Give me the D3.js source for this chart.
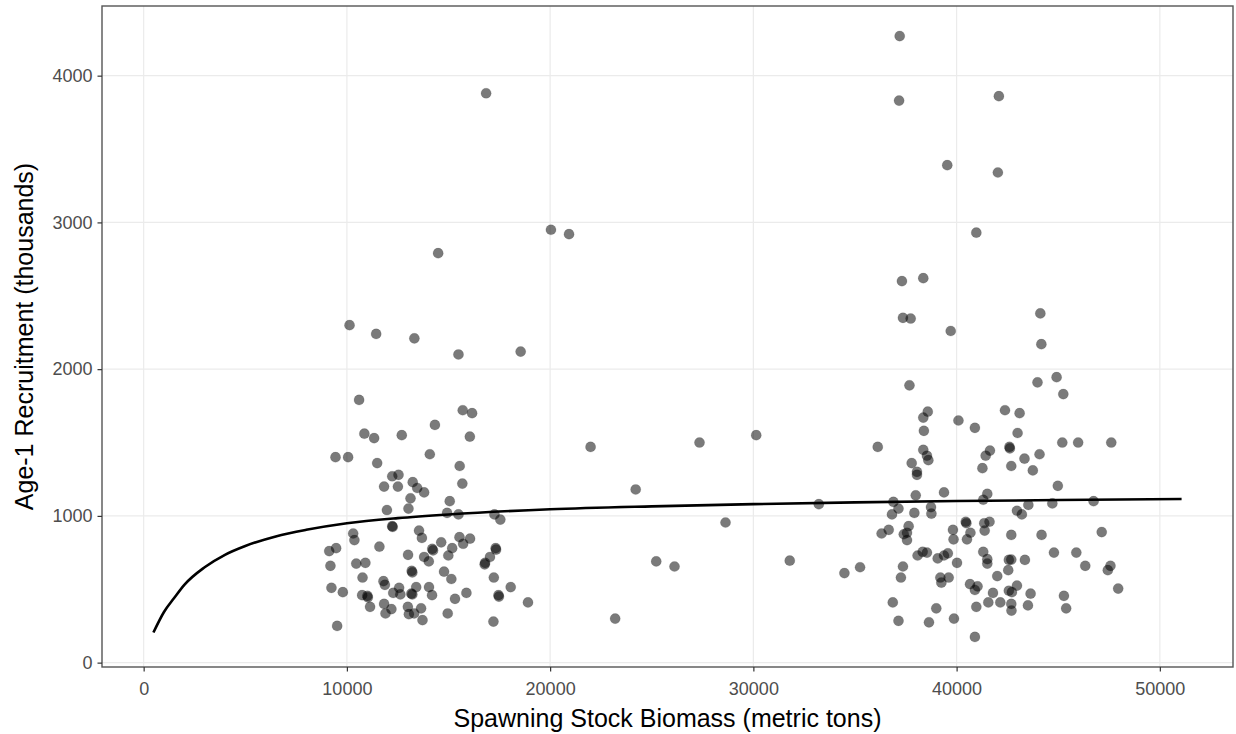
<!DOCTYPE html>
<html>
<head>
<meta charset="utf-8">
<script src="https://cdn.jsdelivr.net/npm/d3@7"></script>
<style>
  html, body { margin: 0; padding: 0; background: #ffffff; }
  svg { display: block; font-family: "Liberation Sans", Arial, Helvetica, sans-serif; }
</style>
</head>
<body>
<svg id="chart" width="1236" height="734"></svg>
<script>
// ---- Data ----
const ssb = [
  10130,11440,13320,15490,18550,10600,15700,16160,14330,10860,11340,12700,16050,9440,10060,14080,11490,15550,
  12230,12540,11830,12510,13240,13460,13800,15680,13130,15060,11970,13030,14930,15490,17260,17550,12230,12250,
  10310,10370,13550,13690,15540,16060,15720,14640,9130,9470,11600,14200,14240,15180,17320,17340,17040,16800,
  16780,13010,13800,14030,14990,9190,10460,10910,13190,13220,14780,10770,11800,11870,15140,17230,18060,9240,
  9800,10750,11010,11030,12280,12570,12630,13170,13220,13410,14040,14190,15320,15880,17460,17480,18910,11140,
  11830,11900,12190,13000,13050,13310,13650,13720,14960,17210,9520,16850,14490,
  20040,20930,21990,27350,30140,24210,33220,28630,25220,26120,31790,34480,35250,23200,
  37200,37170,42080,39540,42030,40970,37310,38360,37360,37740,44120,39710,44170,37680,43980,44920,45250,38580,
  38360,40090,42380,43100,40900,38390,43000,36120,38360,38540,38610,41640,41430,42600,42620,45200,45980,47610,
  44080,43340,37790,41270,42690,43750,38050,38050,44980,39380,37990,41510,36890,41310,37140,36820,37920,38740,
  38760,43530,44710,46740,42970,43210,36310,36660,37640,37400,37560,37560,39820,39850,40450,40480,40680,40510,
  41360,41620,41380,42690,44180,47140,38330,38540,38080,39070,39380,39570,40020,41310,41510,41510,42570,42690,
  43360,42540,42000,44790,45890,46330,47570,47440,47950,37360,37260,39200,39250,39610,40660,40900,41030,42970,
  42720,42570,41790,43640,45280,36860,39000,40970,41560,42150,42690,42700,43510,45390,37140,38640,39870,40900
];
const recruits = [
  2300,2240,2210,2100,2120,1790,1720,1700,1620,1560,1530,1550,1540,1400,1400,1420,1360,1340,
  1270,1280,1200,1200,1230,1190,1160,1220,1120,1100,1040,1050,1020,1010,1010,975,930,925,
  880,835,900,850,855,845,810,820,760,780,790,775,765,780,780,770,720,680,
  670,735,720,690,730,660,675,680,625,615,620,580,555,530,570,580,515,510,
  480,460,455,445,475,510,465,470,465,515,515,460,435,475,460,450,410,380,
  400,335,365,380,330,335,370,290,335,280,250,3880,2790,
  2950,2920,1470,1500,1550,1180,1080,955,690,655,695,610,650,300,
  4270,3830,3860,3390,3340,2930,2600,2620,2350,2345,2380,2260,2170,1890,1910,1945,1830,1710,
  1670,1650,1720,1700,1600,1580,1565,1470,1450,1410,1380,1445,1410,1470,1460,1500,1500,1500,
  1420,1390,1360,1325,1340,1310,1300,1280,1205,1160,1140,1150,1095,1110,1050,1010,1020,1060,
  1015,1075,1085,1100,1035,1010,880,905,930,875,885,835,905,840,960,950,885,840,
  950,960,900,870,870,890,755,750,730,710,730,745,680,755,705,675,700,702,
  700,630,590,750,750,660,660,630,505,655,580,580,545,580,535,495,520,525,
  480,490,475,470,455,410,370,380,410,410,400,355,390,370,285,275,300,175
];
// fitted stock-recruitment curve
const curveSSB = [480,1000,1500,2000,3000,4000,5000,6500,8000,10000,12500,15000,20000,25000,30000,35000,40000,45000,51070];
const curveRec = [205,345,440,530,650,735,795,860,905,950,985,1010,1045,1065,1080,1092,1101,1108,1115];

const xTicks = [0,10000,20000,30000,40000,50000];
const yTicks = [0,1000,2000,3000,4000];
const xTitle = "Spawning Stock Biomass (metric tons)";
const yTitle = "Age-1 Recruitment (thousands)";

// ---- Layout ----
const panel = {left: 102, right: 1233, top: 6, bottom: 667};
const svg = d3.select("#chart");

function expand(ext) { const d = (ext[1]-ext[0])*0.05; return [ext[0]-d, ext[1]+d]; }
const xExt = d3.extent(ssb.concat(curveSSB));
const yExt = d3.extent(recruits.concat(curveRec));
const x = d3.scaleLinear().domain(expand(xExt)).range([panel.left, panel.right]);
const y = d3.scaleLinear().domain(expand(yExt)).range([panel.bottom, panel.top]);

// panel background
svg.append("rect").attr("x", panel.left).attr("y", panel.top)
  .attr("width", panel.right-panel.left).attr("height", panel.bottom-panel.top)
  .attr("fill", "#ffffff");

// grid
const grid = svg.append("g");
grid.selectAll("line.gx").data(xTicks).join("line")
  .attr("x1", d => x(d)).attr("x2", d => x(d))
  .attr("y1", panel.top).attr("y2", panel.bottom)
  .attr("stroke", "#ebebeb").attr("stroke-width", 1.2);
grid.selectAll("line.gy").data(yTicks).join("line")
  .attr("y1", d => y(d)).attr("y2", d => y(d))
  .attr("x1", panel.left).attr("x2", panel.right)
  .attr("stroke", "#ebebeb").attr("stroke-width", 1.2);

// points
svg.append("g").selectAll("circle").data(ssb.map((s,i)=>[s, recruits[i]])).join("circle")
  .attr("cx", d => x(d[0])).attr("cy", d => y(d[1])).attr("r", 5.1)
  .attr("fill", "#000").attr("fill-opacity", 0.52)
  .attr("stroke", "#000").attr("stroke-opacity", 0.15).attr("stroke-width", 0.8);

// curve
const line = d3.line().x(d => x(d[0])).y(d => y(d[1])).curve(d3.curveMonotoneX);
svg.append("path").datum(curveSSB.map((s,i)=>[s, curveRec[i]]))
  .attr("d", line).attr("fill", "none").attr("stroke", "#000").attr("stroke-width", 2.6);

// panel border
svg.append("rect").attr("x", panel.left).attr("y", panel.top)
  .attr("width", panel.right-panel.left).attr("height", panel.bottom-panel.top)
  .attr("fill", "none").attr("stroke", "#555").attr("stroke-width", 1.4);

// axes
const xAxis = svg.append("g").attr("transform", `translate(0,${panel.bottom})`)
  .call(d3.axisBottom(x).tickValues(xTicks).tickFormat(d3.format("d")).tickSize(4.5).tickPadding(3));
xAxis.select(".domain").remove();
xAxis.selectAll(".tick line").attr("stroke", "#333").attr("stroke-width", 1.2);
xAxis.selectAll("text").attr("y", 22).attr("dy", "0.35em")
  .attr("fill", "#4d4d4d").attr("font-size", 18).attr("font-family", "Liberation Sans, Arial, sans-serif");

const yAxis = svg.append("g").attr("transform", `translate(${panel.left},0)`)
  .call(d3.axisLeft(y).tickValues(yTicks).tickFormat(d3.format("d")).tickSize(4.5).tickPadding(5));
yAxis.select(".domain").remove();
yAxis.selectAll(".tick line").attr("stroke", "#333").attr("stroke-width", 1.2);
yAxis.selectAll("text").attr("fill", "#4d4d4d").attr("font-size", 18)
  .attr("font-family", "Liberation Sans, Arial, sans-serif");

// titles
svg.append("text").attr("x", (panel.left+panel.right)/2).attr("y", 718)
  .attr("text-anchor", "middle").attr("dominant-baseline", "central")
  .attr("font-size", 25).attr("fill", "#000").text(xTitle);
svg.append("text")
  .attr("transform", `translate(24,${(panel.top+panel.bottom)/2}) rotate(-90)`)
  .attr("text-anchor", "middle").attr("dominant-baseline", "central")
  .attr("font-size", 25).attr("fill", "#000").text(yTitle);
</script>
</body>
</html>
